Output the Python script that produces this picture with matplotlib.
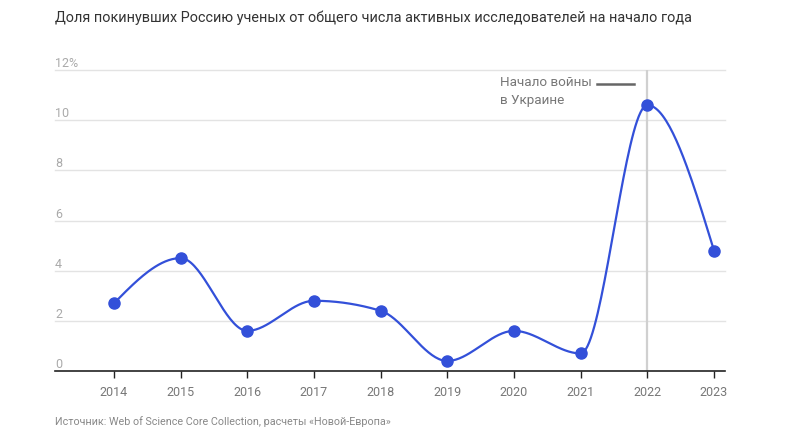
import numpy as np
import matplotlib
matplotlib.use("Agg")
import matplotlib.pyplot as plt

years = [2014, 2015, 2016, 2017, 2018, 2019, 2020, 2021, 2022, 2023]
share = [2.7, 4.5, 1.6, 2.8, 2.4, 0.4, 1.6, 0.7, 10.6, 4.8]
y_ticks = [0, 2, 4, 6, 8, 10, 12]
y_tick_labels = ["0", "2", "4", "6", "8", "10", "12%"]
title = "Доля покинувших Россию ученых от общего числа активных исследователей на начало года"
source = "Источник: Web of Science Core Collection, расчеты «Новой-Европа»"
annot = "Начало войны\nв Украине"
war_year = 2022

plt.rcParams['font.family'] = ['Roboto', 'DejaVu Sans']


def monotone_curve(x, y, n=40):
    x = np.asarray(x, float)
    y = np.asarray(y, float)
    h = np.diff(x)
    s = np.diff(y) / h
    t = np.zeros_like(y)
    for i in range(1, len(x) - 1):
        p = (s[i - 1] * h[i] + s[i] * h[i - 1]) / (h[i - 1] + h[i])
        t[i] = (np.sign(s[i - 1]) + np.sign(s[i])) * min(abs(s[i - 1]), abs(s[i]), 0.5 * abs(p))
    t[0] = (3 * s[0] - t[1]) / 2
    t[-1] = (3 * s[-1] - t[-2]) / 2
    xs, ys = [], []
    for i in range(len(x) - 1):
        dx = h[i] / 3
        P0 = np.array([x[i], y[i]])
        P1 = np.array([x[i] + dx, y[i] + dx * t[i]])
        P2 = np.array([x[i + 1] - dx, y[i + 1] - dx * t[i + 1]])
        P3 = np.array([x[i + 1], y[i + 1]])
        u = np.linspace(0, 1, n)[:, None]
        B = (1 - u) ** 3 * P0 + 3 * (1 - u) ** 2 * u * P1 + 3 * (1 - u) * u ** 2 * P2 + u ** 3 * P3
        xs.extend(B[:, 0])
        ys.extend(B[:, 1])
    return np.array(xs), np.array(ys)


W, H = 796, 447
fig = plt.figure(figsize=(W / 100, H / 100), dpi=100)
left, right, top, bottom = 55, 725, 70, 371
ax = fig.add_axes([left / W, (H - bottom) / H, (right - left) / W, (bottom - top) / H])

ax.set_xlim(2013.115, 2023.165)
ax.set_ylim(0, 12)

for v in y_ticks[1:]:
    ax.axhline(v, color="#e3e3e3", lw=1, zorder=1, clip_on=False)

ax.axvline(war_year, color="#d0d0d0", lw=1.6, zorder=2)

cx, cy = monotone_curve(years, share)
ax.plot(cx, cy, color="#3350d9", lw=1.6, zorder=3, solid_capstyle="round")
ax.plot(years, share, "o", color="#3350d9", ms=8, zorder=4)

for sp in ["top", "right", "left"]:
    ax.spines[sp].set_visible(False)
ax.spines["bottom"].set_color("#222222")
ax.spines["bottom"].set_linewidth(1.2)
ax.set_xticks(years)
ax.set_xticklabels([str(y) for y in years])
ax.tick_params(axis="x", direction="out", length=5, width=1, color="#222222",
               labelsize=9, labelcolor="#777777", pad=6)
ax.set_yticks([])
for v, lab in zip(y_ticks, y_tick_labels):
    ax.text(0, v, lab, transform=ax.get_yaxis_transform(), ha="left", va="bottom",
            fontsize=9, color="#aaaaaa")

ax.text(2019.795, 11.75, annot, ha="left", va="top", fontsize=9.7, color="#777777",
        linespacing=1.45)
ax.plot([2021.25, 2021.805], [11.44, 11.44], color="#666666", lw=1.8, zorder=3)

fig.text(left / W, 1 - 18 / H, title, ha="left", va="center", fontsize=10.4, color="#333333")
fig.text(left / W, 1 - 422 / H, source, ha="left", va="center", fontsize=7.75, color="#888888")

fig.savefig("out.png", dpi=100)
